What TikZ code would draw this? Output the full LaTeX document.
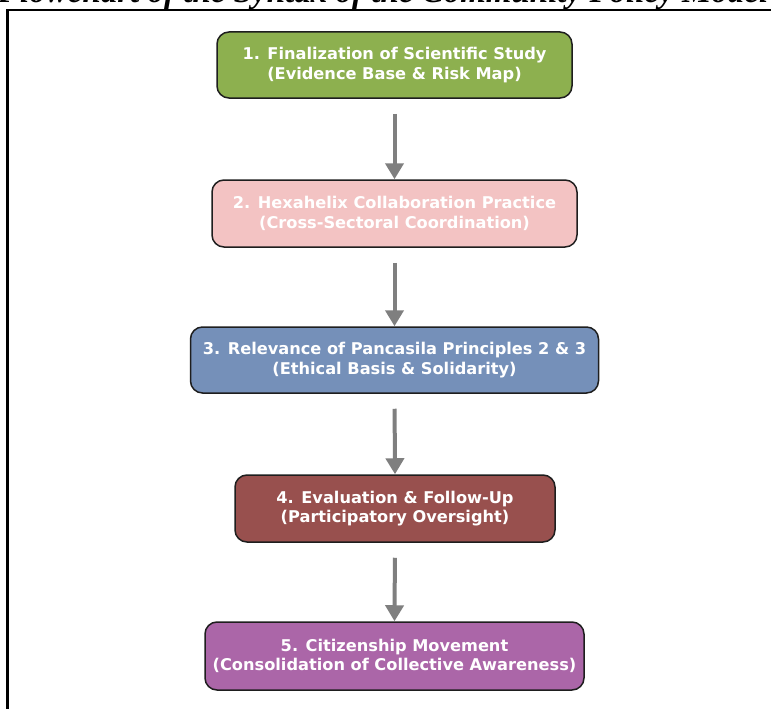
\documentclass[tikz,border=0pt]{standalone}
\usepackage{fontspec}
\setmainfont{DejaVu Sans}
\newfontfamily\titlefont{Liberation Serif}
\usetikzlibrary{arrows.meta}
\definecolor{cgreen}{HTML}{8DB04F}
\definecolor{cpink}{HTML}{F3C3C3}
\definecolor{cblue}{HTML}{7590B9}
\definecolor{cred}{HTML}{98504E}
\definecolor{cpurple}{HTML}{AB66A8}
\definecolor{carrow}{HTML}{7F7F7F}
\definecolor{cborder}{HTML}{1E1E1E}
\begin{document}
\begin{tikzpicture}[x=1pt,y=-1pt,
  stepbox/.style={draw=cborder, line width=1.5pt, rounded corners=12pt, text=white,
    font=\bfseries\fontsize{16.2}{19.5}\selectfont, align=center, inner sep=0pt},
  flow/.style={draw=carrow, line width=4pt, shorten <=15pt,
    -{Triangle[width=18pt,length=16pt]}},
  frameline/.style={draw=black, line width=2.5pt}]
\useasboundingbox (0,0) rectangle (771,709);
\clip (0,0) rectangle (771,709);
\fill[white] (0,0) rectangle (771,709);
\node[anchor=base west, inner sep=0pt, font=\titlefont\bfseries\itshape\fontsize{33}{33}\selectfont] (title) at (-2,3) {Flowchart of the Syntax of the Community Policy Model};
\draw[frameline] (7.5,740) -- (7.5,10) -- (800,10);
\node[stepbox, fill=cgreen, minimum width=355pt, minimum height=66pt] (b1) at (394.5,65) {1. Finalization of Scientific Study\\(Evidence Base \& Risk Map)};
\node[stepbox, fill=cpink, minimum width=365pt, minimum height=67pt] (b2) at (394.5,213.5) {2. Hexahelix Collaboration Practice\\(Cross-Sectoral Coordination)};
\node[stepbox, fill=cblue, minimum width=408pt, minimum height=66pt] (b3) at (394.5,360) {3. Relevance of Pancasila Principles 2 \& 3\\(Ethical Basis \& Solidarity)};
\node[stepbox, fill=cred, minimum width=320pt, minimum height=67pt] (b4) at (395,508.5) {4. Evaluation \& Follow-Up\\(Participatory Oversight)};
\node[stepbox, fill=cpurple, minimum width=379pt, minimum height=68pt] (b5) at (394.5,656) {5. Citizenship Movement\\(Consolidation of Collective Awareness)};
\draw[flow] (b1.south) -- (b2.north);
\draw[flow] (b2.south) -- (b3.north);
\draw[flow] (b3.south) -- (b4.north);
\draw[flow] (b4.south) -- (b5.north);
\end{tikzpicture}
\end{document}
